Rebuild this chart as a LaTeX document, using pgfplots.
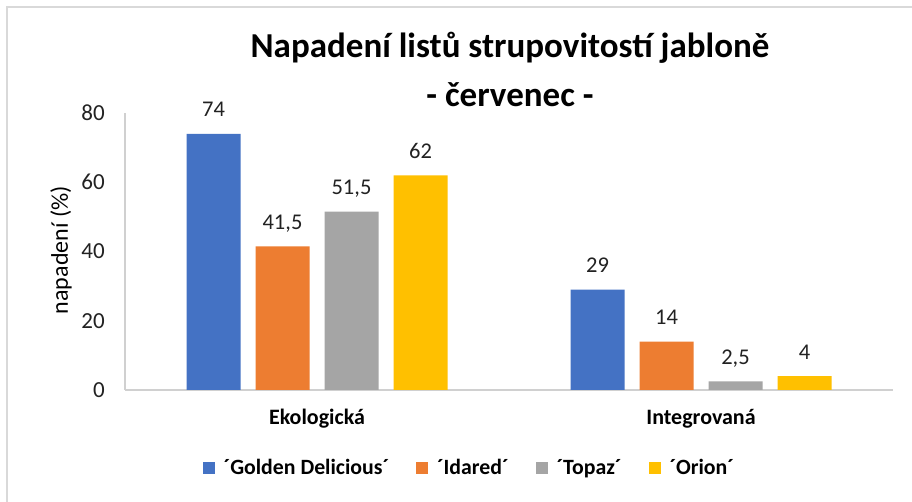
\documentclass[border=0pt]{standalone}
\usepackage{pgfplots}
\pgfplotsset{compat=1.18}
\usepackage{fontspec}
\setmainfont{Carlito}
\definecolor{cblue}{HTML}{4472C4}
\definecolor{corange}{HTML}{ED7D31}
\definecolor{cgray}{HTML}{A5A5A5}
\definecolor{cyellow}{HTML}{FFC000}
\definecolor{framegray}{HTML}{D9D9D9}
\definecolor{axgray}{HTML}{D0D0D0}
\definecolor{txt}{HTML}{222222}
\begin{document}
\begin{tikzpicture}[x=1pt,y=1pt]
\useasboundingbox (0,0) rectangle (912,502);
\fill[white] (0,0) rectangle (912,502);
\draw[color=framegray, line width=2pt] (7,0) -- (7,495) -- (912,495);
\node[font=\fontsize{35}{40}\selectfont\bfseries, inner sep=0pt] at (510,454) {Napadení listů strupovitostí jabloně};
\node[font=\fontsize{35}{40}\selectfont\bfseries, inner sep=0pt] at (510,407) {- červenec -};
\begin{axis}[
  at={(125pt,112pt)}, anchor=south west,
  scale only axis, width=768pt, height=277pt,
  ybar=15pt, bar width=54pt,
  xmin=-0.5, xmax=1.5, ymin=0, ymax=80,
  xtick={0,1}, xticklabels={Ekologická,Integrovaná},
  ytick={0,20,40,60,80},
  axis x line=bottom, axis y line=left,
  axis line style={-, draw=axgray, line width=2pt},
  major tick length=0pt,
  /pgf/number format/assume math mode=true,
  /pgf/number format/use comma,
  /pgf/number format/1000 sep={},
  yticklabel style={font=\fontsize{23}{26}\selectfont, text=txt, inner sep=0pt, anchor=east, xshift=-20pt},
  xticklabel style={font=\fontsize{22}{26}\selectfont\bfseries, text=black, inner sep=0pt, anchor=base, yshift=-35pt},
  every axis y label/.style={at={(axis description cs:-0.0833,0.505)}, rotate=90, anchor=center, font=\fontsize{24}{26}\selectfont, text=black},
  ylabel={napadení (\%)},
  nodes near coords,
  nodes near coords style={font=\fontsize{22.5}{26}\selectfont, text=txt, anchor=base, inner sep=0pt, yshift=17pt},
  legend style={at={(axis description cs:0.447,-0.2816)}, anchor=center, draw=none, fill=none,
    legend columns=4, font=\fontsize{21.8}{24}\selectfont\bfseries,
    nodes={inner sep=0pt},
    /tikz/every odd column/.append style={column sep=9pt},
    /tikz/every even column/.append style={column sep=27pt}},
  legend image code/.code={\fill[#1] (0pt,-6pt) rectangle (12pt,6pt);},
]
\addplot[fill=cblue, draw=none] coordinates {(0,74) (1,29)};
\addplot[fill=corange, draw=none] coordinates {(0,41.5) (1,14)};
\addplot[fill=cgray, draw=none] coordinates {(0,51.5) (1,2.5)};
\addplot[fill=cyellow, draw=none] coordinates {(0,62) (1,4)};
\legend{´Golden Delicious´, ´Idared´, ´Topaz´, ´Orion´}
\end{axis}
\end{tikzpicture}
\end{document}
